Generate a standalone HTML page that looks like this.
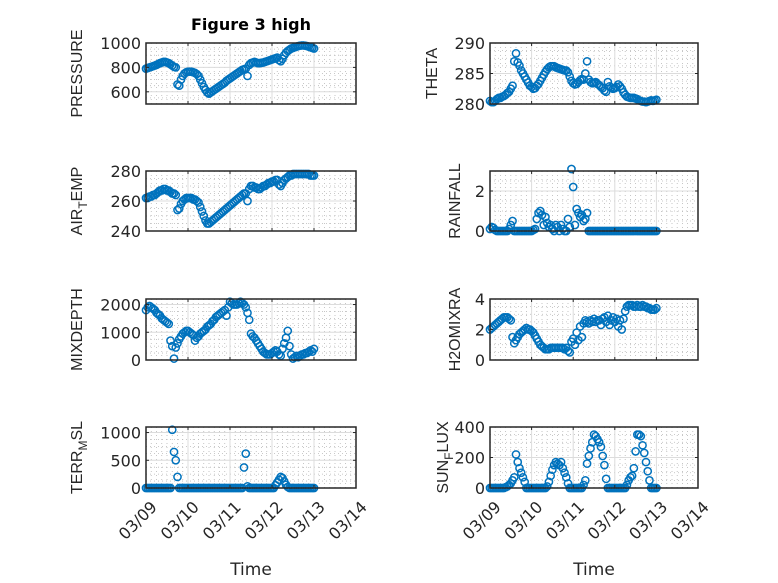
<!DOCTYPE html>
<html><head><meta charset="utf-8"><style>
html,body{margin:0;padding:0;background:#fff;}
svg{display:block;font-family:"DejaVu Sans","Liberation Sans",sans-serif;}
</style></head><body>
<svg id="fig" width="778" height="583" viewBox="0 0 778 583" xmlns="http://www.w3.org/2000/svg">
<rect width="778" height="583" fill="#fff"/>
<text x="251" y="30" text-anchor="middle" font-size="16" font-weight="bold" fill="#000">Figure 3 high</text>
</svg>
<script>
const xTickLabels = ["03/09","03/10","03/11","03/12","03/13","03/14"];
const pressure = [790,795,800,805,810,815,820,828,835,840,845,845,840,835,825,815,805,800,660,650,700,730,750,760,765,765,765,760,755,745,730,700,670,640,615,595,585,595,605,615,625,635,645,655,665,675,690,700,710,720,730,740,750,760,770,780,785,790,730,820,835,840,845,840,835,835,838,840,845,850,855,860,865,870,875,880,860,850,870,900,920,935,945,955,960,965,970,975,978,980,980,978,975,970,965,960,955];
const theta = [280.5,280.3,280.3,280.5,280.8,281,281,281.2,281.3,281.5,281.8,282,282.5,283,287,288.3,286.8,286.3,285.5,285,284.5,284,283.5,283,282.8,282.5,282.6,283,283.3,283.8,284.3,284.8,285.3,285.7,286,286.2,286.2,286.2,286,285.9,285.8,285.7,285.6,285.5,285.5,285.2,284.5,283.8,283.4,283.2,283.3,283.6,283.9,284.1,284,285,287,284,283.6,283.4,283.5,283.6,283.3,283.1,282.8,282.6,282.2,282,283.6,282.9,282.7,282.5,282.6,282.8,283.2,282.9,282.5,281.9,281.5,281.2,281.1,281,281,281,280.9,280.8,280.6,280.5,280.4,280.4,280.3,280.4,280.5,280.6,280.5,280.6,280.7];
const airTemp = [262,262,263,263,264,264,265,266,267,267,268,268,267,267,266,265,265,264,254,255,258,260,261,262,262,262,262,261,261,260,259,256,253,250,247,245,245,246,247,248,249,250,251,252,253,254,255,256,257,258,259,260,261,262,263,264,265,265,260,268,270,270,269,269,268,268,269,270,270,271,272,272,273,273,274,274,271,270,272,274,275,276,277,277,278,278,278,278,278,278,278,278,278,278,277,277,277];
const rainfall = [0.1,0.2,0.15,0.05,0,0,0,0,0,0,0,0.1,0.3,0.5,0,0,0,0,0,0,0,0,0,0,0,0.05,0.1,0.6,0.9,1.0,0.8,0.3,0.7,0.4,0.2,0.3,0.1,0,0.3,0.2,0,0.3,0.1,0,0,0.6,0.2,3.1,2.2,0.3,1.1,0.9,0.7,0.8,0.5,0.6,0.9,0,0,0,0,0,0,0,0,0,0,0,0,0,0,0,0,0,0,0,0,0,0,0,0,0,0,0,0,0,0,0,0,0,0,0,0,0,0,0,0];
const mixDepth = [1800,1900,1950,1900,1850,1800,1700,1650,1600,1500,1450,1400,1350,1300,700,500,50,450,600,750,850,950,1000,1050,1050,1000,950,900,700,800,850,950,1000,1050,1100,1200,1250,1300,1400,1450,1550,1600,1650,1700,1750,1800,1600,1900,2100,2050,2000,2000,2000,2050,2100,2050,2000,1900,1700,1450,950,850,800,700,600,500,400,300,250,200,200,200,250,300,350,300,200,150,400,600,800,1050,500,200,50,100,150,100,150,200,200,250,250,300,350,300,400];
const h2oMix = [2.0,2.1,2.2,2.3,2.4,2.5,2.6,2.7,2.8,2.8,2.8,2.7,2.6,1.5,1.1,1.3,1.5,1.7,1.8,1.9,2.0,2.1,2.0,2.0,1.9,1.8,1.6,1.4,1.2,1.0,0.9,0.8,0.7,0.7,0.7,0.8,0.8,0.8,0.8,0.8,0.8,0.8,0.8,0.7,0.8,0.6,0.5,1.2,1.4,1.0,1.8,1.3,2.2,1.5,2.4,2.6,2.5,2.4,2.6,2.5,2.7,2.5,2.6,2.6,2.3,2.7,2.8,2.5,2.9,2.3,2.6,2.8,2.5,2.7,2.2,2.6,2.0,2.7,3.2,3.5,3.6,3.6,3.6,3.5,3.5,3.6,3.5,3.5,3.6,3.5,3.5,3.4,3.4,3.3,3.3,3.3,3.4];
const terrMsl = [0,0,0,0,0,0,0,0,0,0,0,0,0,0,0,1050,650,500,200,0,0,0,0,0,0,0,0,0,0,0,0,0,0,0,0,0,0,0,0,0,0,0,0,0,0,0,0,0,0,0,0,0,0,0,0,0,370,620,30,0,0,0,0,0,0,0,0,0,0,0,0,0,0,0,50,100,150,200,180,120,60,20,0,0,0,0,0,0,0,0,0,0,0,0,0,0,0];
const sunFlux = [0,0,0,0,0,0,0,0,0,5,10,20,30,50,70,220,170,130,100,70,40,0,0,0,0,0,0,0,0,0,0,0,0,10,40,80,120,150,170,160,150,170,130,100,70,30,0,0,0,0,0,0,0,0,20,50,160,210,260,300,350,340,320,300,270,210,150,60,0,0,0,0,0,0,0,0,0,0,0,20,50,70,80,130,240,350,350,340,280,230,170,110,50,0,0,0,0];

const panels = [
 {name:"pressure", data:pressure, ymin:500, ymax:1000, ticks:[600,800,1000], col:0,row:0, label:"PRESSURE", lx:82},
 {name:"theta", data:theta, ymin:280, ymax:290, ticks:[280,285,290], col:1,row:0, label:"THETA", lx:437},
 {name:"air-temp", data:airTemp, ymin:240, ymax:280, ticks:[240,260,280], col:0,row:1, label:["AIR","T","EMP"], lx:82},
 {name:"rainfall", data:rainfall, ymin:0, ymax:3, ticks:[0,2], col:1,row:1, label:"RAINFALL", lx:460},
 {name:"mixdepth", data:mixDepth, ymin:0, ymax:2200, ticks:[0,1000,2000], col:0,row:2, label:"MIXDEPTH", lx:82},
 {name:"h2omixra", data:h2oMix, ymin:0, ymax:4, ticks:[0,2,4], col:1,row:2, label:"H2OMIXRA", lx:460},
 {name:"terr-msl", data:terrMsl, ymin:0, ymax:1100, ticks:[0,500,1000], col:0,row:3, label:["TERR","M","SL"], lx:82},
 {name:"sun-flux", data:sunFlux, ymin:0, ymax:400, ticks:[0,200,400], col:1,row:3, label:["SUN","F","LUX"], lx:448}
];
const colX = [[146,356],[490,698]];
const rowY = [[43,104],[171,231],[299,360],[427,488]];
const NS = "http://www.w3.org/2000/svg";
const svg = document.getElementById("fig");
function mk(tag, attrs, parent){const e=document.createElementNS(NS,tag);for(const k in attrs)e.setAttribute(k,attrs[k]);(parent||svg).appendChild(e);return e;}

panels.forEach(p=>{
  const [x0,x1]=colX[p.col], [y0,y1]=rowY[p.row];
  const g = mk("g",{});
  
  
  const hours = 120;
  const xs = h => x0 + (x1-x0)*h/hours;
  const ys = v => y1 - (y1-y0)*(v-p.ymin)/(p.ymax-p.ymin);
  mk("rect",{x:x0,y:y0,width:x1-x0,height:y1-y0,fill:"#fff"},g);
  for(let h=3;h<hours;h+=3){ if(h%24===0) continue;
    mk("line",{x1:xs(h),x2:xs(h),y1:y0,y2:y1,stroke:"#b8b8b8","stroke-width":0.8,"stroke-dasharray":"1 3"},g);}
  const step = p.ticks.length>1 ? p.ticks[1]-p.ticks[0] : 1;
  const mstep = step/4;
  for(let v=Math.ceil(p.ymin/mstep)*mstep; v<p.ymax; v+=mstep){
    if(Math.abs(v/step-Math.round(v/step))<1e-6) continue;
    mk("line",{x1:x0,x2:x1,y1:ys(v),y2:ys(v),stroke:"#b8b8b8","stroke-width":0.8,"stroke-dasharray":"1 3"},g);}
  for(let d=1; d<5; d++) mk("line",{x1:xs(d*24),x2:xs(d*24),y1:y0,y2:y1,stroke:"#dcdcdc","stroke-width":1},g);
  p.ticks.forEach(v=>{ if(v>p.ymin&&v<p.ymax) mk("line",{x1:x0,x2:x1,y1:ys(v),y2:ys(v),stroke:"#dcdcdc","stroke-width":1},g);});
  const sg = mk("g",{fill:"none",stroke:"#0072BD","stroke-width":1.5},g);
  
  
  p.data.forEach((v,i)=>{
    const c = mk("circle",{cx:xs(i).toFixed(2),cy:ys(v).toFixed(2),r:3.6},sg);
    
    
  });
  mk("rect",{x:x0,y:y0,width:x1-x0,height:y1-y0,fill:"none",stroke:"#262626","stroke-width":1.5},g);
  for(let d=0; d<=5; d++){
    mk("line",{x1:xs(d*24),x2:xs(d*24),y1:y1,y2:y1-3,stroke:"#262626","stroke-width":1},g);
    mk("line",{x1:xs(d*24),x2:xs(d*24),y1:y0,y2:y0+3,stroke:"#262626","stroke-width":1},g);
  }
  p.ticks.forEach(v=>{
    mk("line",{x1:x0,x2:x0+3,y1:ys(v),y2:ys(v),stroke:"#262626","stroke-width":1},g);
    mk("line",{x1:x1,x2:x1-3,y1:ys(v),y2:ys(v),stroke:"#262626","stroke-width":1},g);
    const t = mk("text",{x:x0-5,y:ys(v)+6,"text-anchor":"end","font-size":16,fill:"#262626"},g);
    t.textContent = v;
    
    
  });
  const cy=(y0+y1)/2;
  const yl = mk("text",{x:p.lx,y:cy,"text-anchor":"middle","font-size":16,"font-family":"Liberation Sans, sans-serif",fill:"#262626",transform:`rotate(-90 ${p.lx} ${cy})`},g);
  
  
  if(Array.isArray(p.label)){
    const a=mk("tspan",{},yl); a.textContent=p.label[0];
    const b=mk("tspan",{dy:5,"font-size":12},yl); b.textContent=p.label[1];
    const c=mk("tspan",{dy:-5},yl); c.textContent=p.label[2];
  } else yl.textContent=p.label;
  if(p.row===3){
    xTickLabels.forEach((lab,d)=>{
      const tx=xs(d*24)+12, ty=y1+20;
      const t=mk("text",{x:tx,y:ty,"text-anchor":"end","font-size":16,fill:"#262626",transform:`rotate(-45 ${tx} ${ty})`},g);
      t.textContent=lab;
      
      
    });
    const xt=mk("text",{x:(x0+x1)/2,y:575,"text-anchor":"middle","font-size":17,fill:"#262626"},g);
    xt.textContent="Time";
    
    
  }
});
</script>
</body></html>
